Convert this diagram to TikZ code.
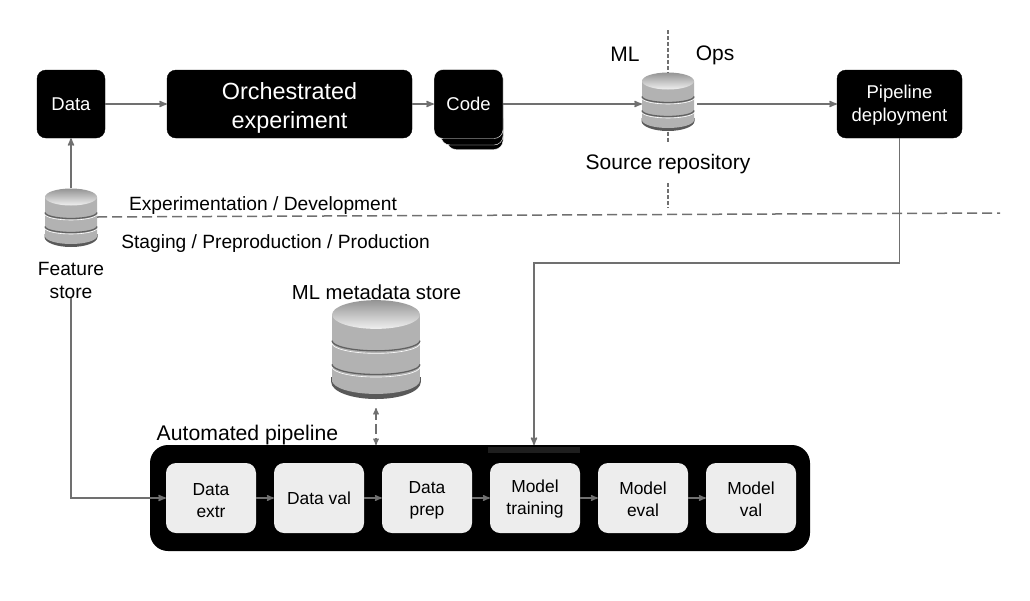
\documentclass[tikz,border=0pt]{standalone}
\usepackage{fontspec}
\setmainfont{Liberation Sans}
\usetikzlibrary{arrows}

\definecolor{linegray}{HTML}{707070}
\definecolor{stepgray}{HTML}{EDEDED}
\definecolor{slotgray}{HTML}{1E1E1E}

\newcommand{\lowered}[1]{\rule{0pt}{#1}}

\tikzset{
  dbstore/.pic={
    % shadow, body, lid and the two bands of a cylinder, 52 wide and 59 high
    \fill[black!65] (-26.5,19) arc[start angle=180,end angle=360,x radius=26.5pt,y radius=10pt] -- (26.5,16) -- (-26.5,16) -- cycle;
    \path[left color=black!30,middle color=black!4,right color=black!30]
      (-26,-21) -- (-26,18) arc[start angle=180,end angle=360,x radius=26pt,y radius=8pt] -- (26,-21) -- cycle;
    \path[shading angle=20,top color=black!42,bottom color=black!6] (0,-21) ellipse[x radius=26pt,y radius=8.5pt];
    \draw[white,line width=0.6pt] (-26,-4) arc[start angle=180,end angle=360,x radius=26pt,y radius=6pt];
    \draw[white,line width=0.6pt] (-26,10) arc[start angle=180,end angle=360,x radius=26pt,y radius=6pt];
    \draw[black!62,line width=1.3pt] (-26,-5.5) arc[start angle=180,end angle=360,x radius=26pt,y radius=6pt];
    \draw[black!62,line width=1.3pt] (-26,8.5) arc[start angle=180,end angle=360,x radius=26pt,y radius=6pt];
    \coordinate (-c) at (0,0);
  }
}

\begin{document}
\begin{tikzpicture}[x=1pt,y=-1pt,>=stealth',
    black box/.style={draw=black,fill=black,rounded corners=9pt,text=white,align=center,inner sep=0pt,font=\fontsize{18.5}{23}\selectfont},
    step box/.style={fill=stepgray,rounded corners=10pt,minimum width=90pt,minimum height=70pt,inner sep=0pt,align=center,font=\fontsize{17.4}{22}\selectfont},
    label text/.style={inner sep=0pt,align=center,font=\fontsize{19.2}{23}\selectfont},
    flow/.style={->,linegray,line width=1.6pt},
    split/.style={linegray,line width=1.5pt,dash pattern=on 10pt off 5pt}]

  \useasboundingbox (0,0) rectangle (1030,600);

  % top row
  \node[black box,minimum width=68pt,minimum height=68pt] (data) at (71,104) {Data};
  \node[black box,minimum width=245pt,minimum height=68pt,font=\fontsize{23.4}{29}\selectfont] (orch) at (289.5,104) {\lowered{24pt}Orchestrated\\experiment};
  \node[black box,draw=white,minimum width=56pt,minimum height=40pt] (codeb) at (475,129.5) {};
  \node[black box,draw=white,minimum width=62pt,minimum height=50pt] (codea) at (472,120) {};
  \node[black box,draw=white,minimum width=69pt,minimum height=69pt] (code) at (468.5,104) {Code};
  \node[black box,minimum width=125pt,minimum height=68pt] (deploy) at (899.5,104) {\lowered{16pt}Pipeline\\deployment};

  % stores
  \pic (feat) at (71,218) {dbstore};
  \pic (source) at (668,102) {dbstore};
  \pic[scale=1.69] (meta) at (376,350) {dbstore};
  \node[inner sep=0pt,minimum width=52pt,minimum height=59pt] (featbox) at (feat-c) {};
  \node[inner sep=0pt,minimum width=52pt,minimum height=59pt] (sourcebox) at (source-c) {};
  \node[inner sep=0pt,minimum width=88pt,minimum height=100pt] (metabox) at (meta-c) {};

  \node[label text] (featlabel) at (71,280) {Feature\\store};
  \node[label text,font=\fontsize{21}{25}\selectfont] (ml) at (625,54) {ML};
  \node[label text,font=\fontsize{21}{25}\selectfont] (ops) at (715,55.5) {Ops};
  \node[label text,font=\fontsize{21}{25}\selectfont] (srclabel) at (668,164) {Source repository};
  \node[label text] (exp) at (263,205.5) {Experimentation / Development};
  \node[label text] (stg) at (275.5,243.5) {Staging / Preproduction / Production};
  \node[label text,font=\fontsize{20.3}{25}\selectfont] (metalabel) at (376.5,292) {ML metadata store};
  \node[label text,font=\fontsize{21.2}{25}\selectfont] (autolabel) at (247.5,435) {Automated pipeline};

  % pipeline
  \node[fill=black,rounded corners=18pt,minimum width=660pt,minimum height=106pt,inner sep=0pt] (auto) at (480,498) {};
  \fill[slotgray] (488,447) rectangle (580,453);
  \coordinate (slot) at (534,445);
  \node[step box] (extr) at (211,498) {\lowered{17pt}Data\\extr};
  \node[step box] (val) at (319,498) {Data val};
  \node[step box] (prep) at (427,498) {\lowered{17pt}Data\\prep};
  \node[step box] (train) at (535,498) {\lowered{15pt}Model\\training};
  \node[step box] (eval) at (643,498) {\lowered{15pt}Model\\eval};
  \node[step box] (mval) at (751,498) {\lowered{15pt}Model\\val};

  % connectors
  \draw[flow] (data) -- (orch);
  \draw[flow] (orch) -- (code);
  \draw[flow] (code) -- (sourcebox.west |- code);
  \draw[flow,shorten <=3pt] (sourcebox.east |- deploy) -- (deploy);
  \draw[flow] (featbox) -- (data);
  \draw[flow] (featlabel.south) |- (extr.west);
  \draw[flow] (deploy.south) |- (534,263) -- (slot);

  \foreach \from/\to in {extr/val,val/prep,prep/train,train/eval,eval/mval}
    \draw[->,linegray,line width=1.4pt] (\from) -- (\to);

  % separators
  \coordinate (splitend) at (1000,213);
  \draw[split] (featbox.east |- 0,217) -- (splitend);
  \coordinate (topend) at (668,30);
  \coordinate (gapa) at (668,142);
  \coordinate (gapb) at (668,183);
  \coordinate (gapc) at (668,208);
  \draw[linegray,line width=1.2pt,dash pattern=on 4pt off 2pt] (topend) -- (sourcebox.north);
  \draw[linegray,line width=1.2pt,dash pattern=on 4pt off 2pt] (sourcebox.south) -- (gapa);
  \draw[linegray,line width=1.2pt,dash pattern=on 4pt off 2pt] (gapb) -- (gapc);

  \coordinate (meeta) at (376,408);
  \coordinate (meetb) at (376,445);
  \draw[<->,linegray,line width=1.3pt,dash pattern=on 10pt off 4pt] (meeta) -- (meetb);
\end{tikzpicture}
\end{document}
